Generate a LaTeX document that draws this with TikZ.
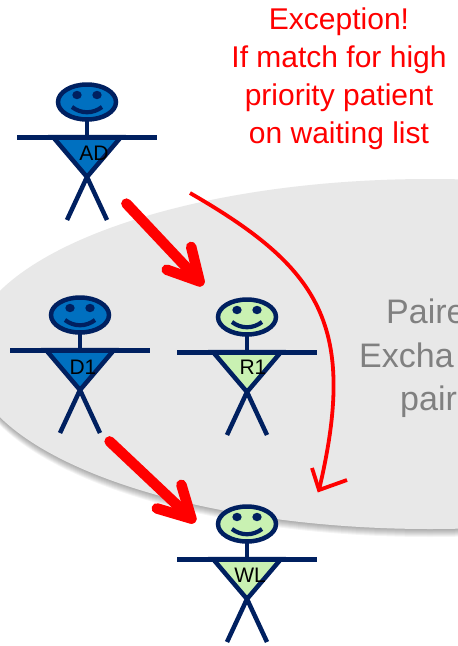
\documentclass[tikz,border=0pt]{standalone}
\usepackage{fontspec}
\setmainfont{Liberation Sans}
\usetikzlibrary{calc}
\definecolor{navy}{HTML}{002060}
\definecolor{donor}{HTML}{0070C0}
\definecolor{recip}{HTML}{C9F1B2}
\definecolor{ovalgray}{HTML}{E8E8E8}
\definecolor{txtgray}{HTML}{808080}
\definecolor{arrred}{HTML}{FF0000}
\begin{document}
\begin{tikzpicture}[x=1pt,y=-1pt,
  figline/.style={navy, line width=4.5pt},
  bigarrow/.style={arrred, line width=10.5pt, line cap=round, line join=round},
  thinarrow/.style={arrred, line width=3.8pt},
  namelabel/.style={font=\fontsize{21}{24}\selectfont, text=black, inner sep=0pt},
  pairtext/.style={font=\fontsize{34}{44}\selectfont, text=txtgray, inner sep=0pt, anchor=base west},
  pics/stick/.style={code={
    \draw[figline, fill=#1] (-34,0) -- (34,0) -- (0,40) -- cycle;
    \draw[figline] (0,40) -- (-20,83) (0,40) -- (20,83);
    \draw[figline] (0,-17) -- (0,0);
    \draw[navy, line width=5pt] (-70,0) -- (70,0);
    \draw[figline, fill=#1] (0,-35) ellipse [x radius=29, y radius=17.5];
    \fill[navy] (-10,-42) ellipse [x radius=4.7, y radius=4.2];
    \fill[navy] (10,-42) ellipse [x radius=4.7, y radius=4.2];
    \draw[navy, line width=4.2pt] (-15,-30) .. controls (-6,-23) and (6,-23) .. (15,-30);
  }},
]
\useasboundingbox (0,0) rectangle (458,646);
\clip (0,0) rectangle (458,646);
\fill[white] (0,0) rectangle (458,646);

% pairing oval with soft shadow
\foreach \k in {1,...,8}
  \fill[black, opacity=0.045] (430,354+\k) ellipse [x radius=461, y radius=175];
\fill[ovalgray] (430,354) ellipse [x radius=461, y radius=175];

\node[pairtext] (pe1) at (386,323) {Paire};
\node[pairtext] (pe2) at (359,367) {Excha};
\node[pairtext] (pe3) at (400,410) {pair};

% exception text
\node[align=center, text=arrred, font=\fontsize{30}{38}\selectfont, inner sep=0pt, anchor=north] (exc) at (339,8)
  {Exception!\\If match for high\\priority patient\\on waiting list};

% figures
\coordinate (AD) at (87,137);
\coordinate (D1) at (80,350);
\coordinate (R1) at (247,352);
\coordinate (WL) at (247,559);
\pic (adfig) at (AD) {stick=donor};
\pic (d1fig) at (D1) {stick=donor};
\pic (r1fig) at (R1) {stick=recip};
\pic (wlfig) at (WL) {stick=recip};
\node[namelabel] (ADl) at (94,153) {AD};
\node[namelabel] (D1l) at (83,367) {D1};
\node[namelabel] (R1l) at (253,367) {R1};
\node[namelabel] (WLl) at (250,575) {WL};

% AD -> R1
\coordinate (a1s) at (126.4,203.6);
\coordinate (a1t) at (199.6,281.4);
\coordinate (a1b) at (191.2,246.9);
\coordinate (a1c) at (166.7,269.7);
\draw[bigarrow] (a1s) -- (a1t);
\draw[bigarrow] (a1b) -- (a1t) -- (a1c);

% D1 -> WL
\coordinate (a2s) at (109.6,441.4);
\coordinate (a2t) at (191.4,518.6);
\coordinate (a2b) at (181.4,484.8);
\coordinate (a2c) at (156.8,508.4);
\draw[bigarrow] (a2s) -- (a2t);
\draw[bigarrow] (a2b) -- (a2t) -- (a2c);

% exception curved arrow
\coordinate (cs) at (190,193);
\coordinate (ct) at (319,490);
\coordinate (cb1) at (312,468);
\coordinate (cb2) at (347,480);
\draw[thinarrow] (cs) .. controls (320,268) and (358,325) .. (ct);
\draw[thinarrow] (cb1) -- (ct) -- (cb2);
\end{tikzpicture}
\end{document}
